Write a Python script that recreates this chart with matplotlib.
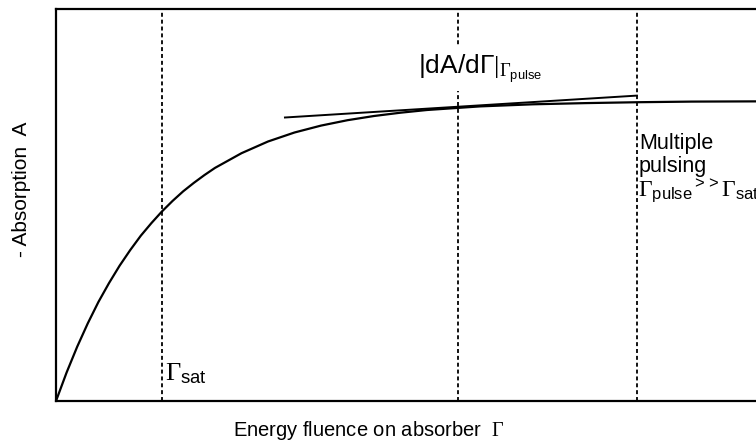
import matplotlib
matplotlib.use("Agg")
import matplotlib.pyplot as plt

plt.rcParams['font.family'] = ['Liberation Sans', 'DejaVu Sans']
plt.rcParams['mathtext.fontset'] = 'custom'
plt.rcParams['mathtext.rm'] = 'Liberation Serif'
plt.rcParams['mathtext.it'] = 'Liberation Serif:italic'
plt.rcParams['mathtext.sf'] = 'Liberation Sans'

# Normalised fluence (Gamma / Gamma_sat) and absorption
gamma = [0.0, 0.1, 0.2, 0.3, 0.4, 0.5, 0.6, 0.7, 0.8, 0.9, 1.0, 1.1, 1.2,
         1.3, 1.4, 1.5, 1.75, 2.0, 2.25, 2.5, 2.75, 3.0, 3.25, 3.5, 3.75,
         4.0, 4.5, 5.0, 5.5, 6.0, 6.8]
absorption = [0.0, 0.095, 0.181, 0.259, 0.33, 0.393, 0.451, 0.503, 0.551,
              0.593, 0.632, 0.667, 0.699, 0.727, 0.753, 0.777, 0.826, 0.865,
              0.895, 0.918, 0.936, 0.950, 0.961, 0.970, 0.976, 0.982, 0.989,
              0.993, 0.996, 0.998, 0.999]

# Tangent to the curve around Gamma_pulse
tangent_gamma = [2.16, 5.48]
tangent_abs = [0.945, 1.018]

# Vertical markers: Gamma_sat, Gamma_pulse, multiple-pulsing threshold
marker_gamma = [1.0, 3.79, 5.48]

W, H = 756, 447
fig = plt.figure(figsize=(W / 100, H / 100), dpi=100)
ax = fig.add_axes([56 / W, 46 / H, 724 / W, 392 / H])


def px(x, y):
    return x / W, 1 - y / H


ax.plot(gamma, absorption, color='black', lw=1.6, solid_joinstyle='round')
ax.plot(tangent_gamma, tangent_abs, color='black', lw=1.4)
for g in marker_gamma:
    ax.axvline(g, color='black', lw=1.3, linestyle=(0, (2.2, 1.6)))

ax.set_xlim(0, 724 / 106)
ax.set_ylim(0, 392 / 300)
ax.set_xticks([])
ax.set_yticks([])
for s in ax.spines.values():
    s.set_linewidth(1.6)

# slope label sits on a white patch that breaks the dashed line
fig.text(*px(418, 69), r'|dA/dΓ$|_{\Gamma_{\mathsf{pulse}}}$', fontsize=19,
         va='center', ha='left',
         bbox=dict(facecolor='white', edgecolor='none', pad=4))
fig.text(*px(165, 374), r'$\Gamma_{\mathsf{sat}}$', fontsize=19,
         va='center', ha='left')
fig.text(*px(639, 133), 'Multiple\npulsing', fontsize=15.5, va='top',
         ha='left', linespacing=1.15)
fig.text(*px(638, 190),
         r'$\Gamma_{\mathsf{pulse}}{}^{\mathsf{>>}}\Gamma_{\mathsf{sat}}$',
         fontsize=17, va='center', ha='left')
fig.text(*px(369, 430), r'Energy fluence on absorber  $\Gamma$', fontsize=14.5,
         va='center', ha='center')
fig.text(*px(22, 189), '- Absorption  A', fontsize=15, va='center',
         ha='center', rotation=90)

fig.savefig('out.png', dpi=100)
